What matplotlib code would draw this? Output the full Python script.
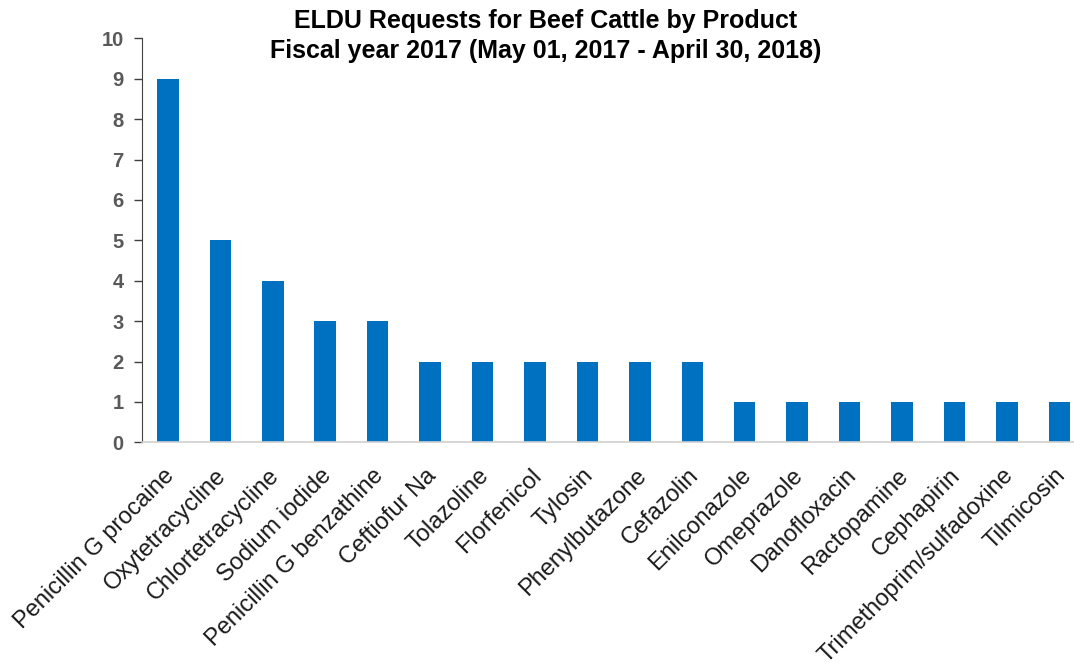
import matplotlib.pyplot as plt
import matplotlib.transforms as mtransforms

plt.rcParams['font.family'] = ['Liberation Sans', 'DejaVu Sans']

products = ['Penicillin G procaine', 'Oxytetracycline', 'Chlortetracycline',
            'Sodium iodide', 'Penicillin G benzathine', 'Ceftiofur Na',
            'Tolazoline', 'Florfenicol', 'Tylosin', 'Phenylbutazone',
            'Cefazolin', 'Enilconazole', 'Omeprazole', 'Danofloxacin',
            'Ractopamine', 'Cephapirin', 'Trimethoprim/sulfadoxine', 'Tilmicosin']
requests = [9, 5, 4, 3, 3, 2, 2, 2, 2, 2, 2, 1, 1, 1, 1, 1, 1, 1]
yticks = list(range(0, 11))

fig = plt.figure(figsize=(10.74, 6.63), dpi=100)
ax = fig.add_axes([141.7 / 1074, 1 - 442.3 / 663, 1 - 141.7 / 1074, (442.3 - 38.3) / 663])

x = range(len(products))
ax.bar(x, requests, width=0.41, color='#0070C0', zorder=2)

ax.set_xlim(-0.5, 17.28)
ax.set_ylim(0, 10)
ax.set_yticks(yticks)
ax.set_yticklabels([str(t) for t in yticks], fontsize=14.5, fontweight='bold', color='#595959')
ax.tick_params(axis='y', length=6, width=1, color='#404040', pad=7)

ax.set_xticks(list(x))
ax.set_xticklabels(products, rotation=45, ha='right', rotation_mode='anchor',
                   fontsize=17, color='#1a1a1a')
ax.tick_params(axis='x', length=0, pad=16)

# nudge the slanted labels a little to the left
shift = mtransforms.ScaledTranslation(-5 / 100, 0, fig.dpi_scale_trans)
for lbl in ax.get_xticklabels():
    lbl.set_transform(lbl.get_transform() + shift)

for side in ['top', 'right']:
    ax.spines[side].set_visible(False)
ax.spines['left'].set_color('#404040')
ax.spines['bottom'].set_color('#d0d0d0')
ax.spines['bottom'].set_linewidth(1.2)

fig.text(546 / 1074, 1 - 21 / 663, 'ELDU Requests for Beef Cattle by Product',
         ha='center', va='center', fontsize=18, fontweight='bold')
fig.text(546 / 1074, 1 - 51 / 663, 'Fiscal year 2017 (May 01, 2017 - April 30, 2018)',
         ha='center', va='center', fontsize=18, fontweight='bold')

fig.savefig('out.png', dpi=100)
